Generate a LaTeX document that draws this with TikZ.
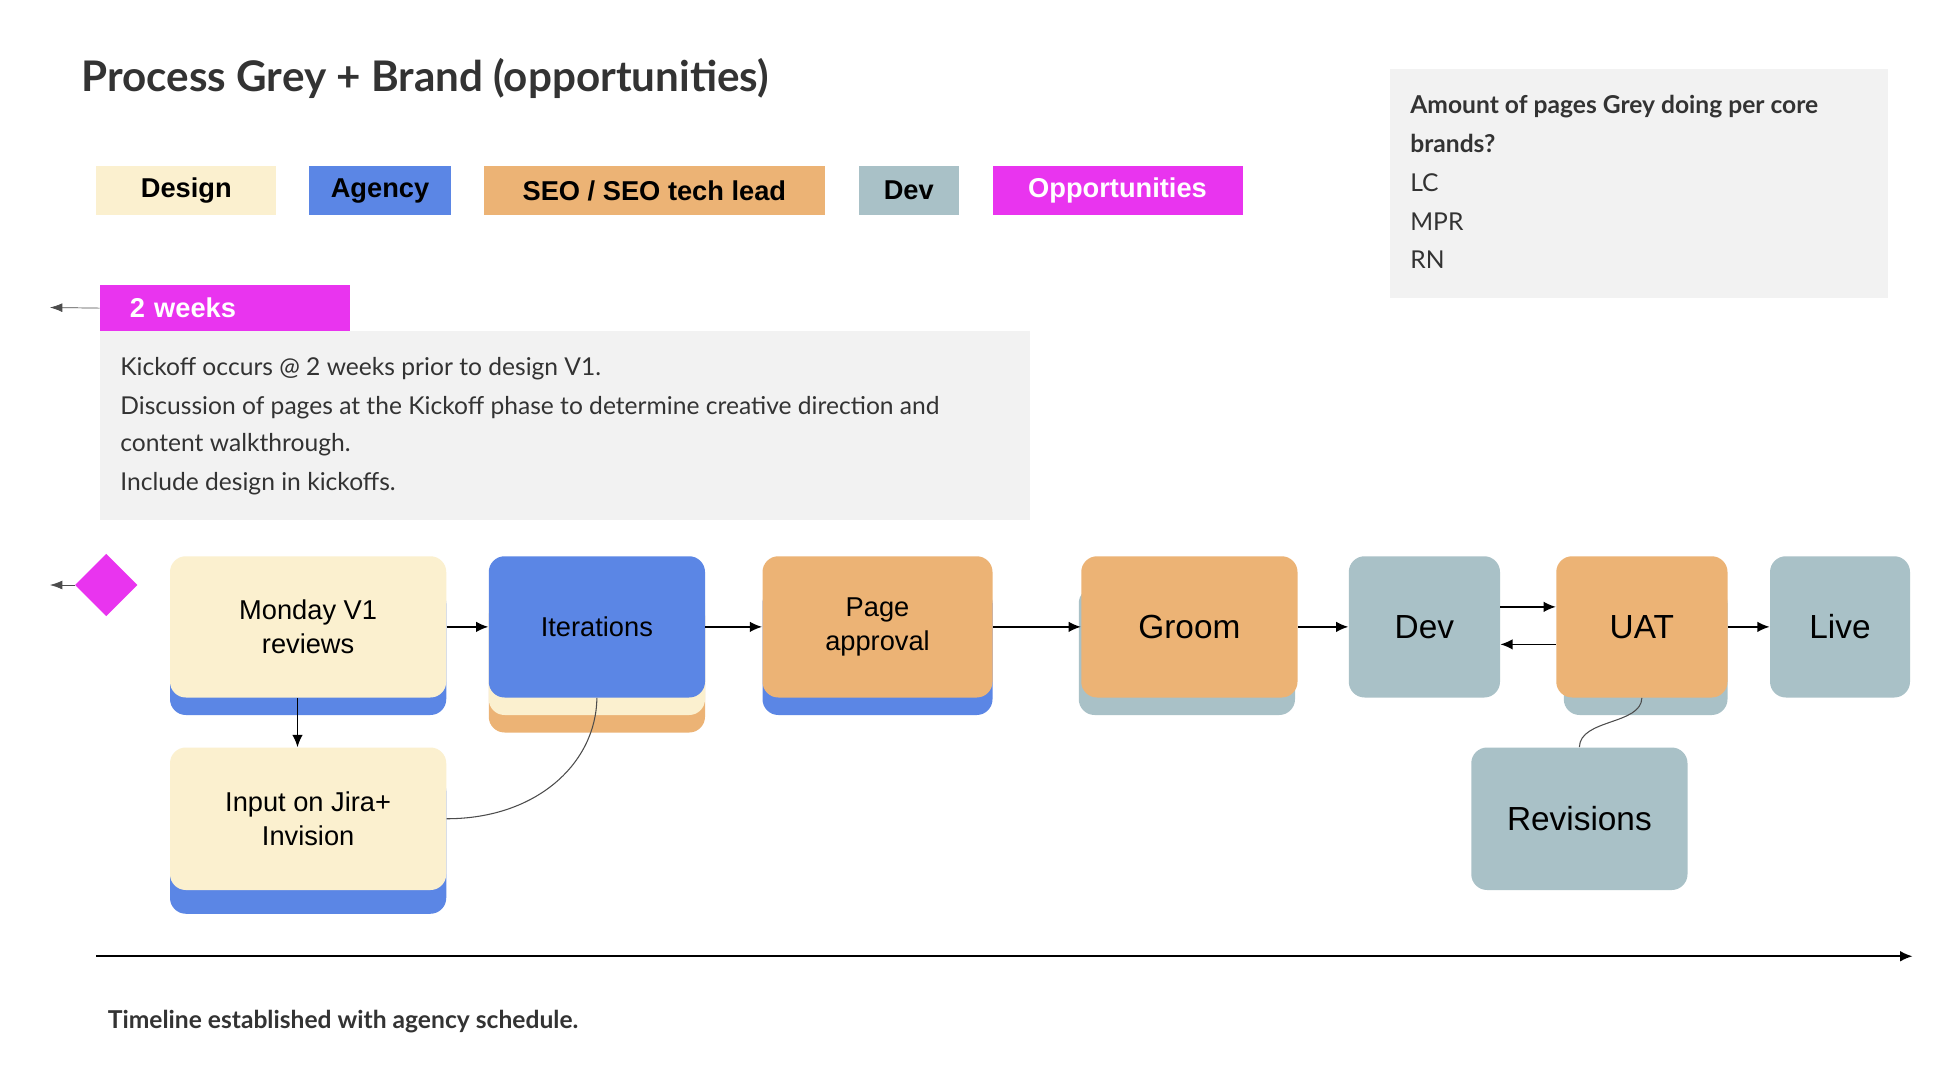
\documentclass[tikz,border=0pt]{standalone}
\usepackage{fontspec}
\setmainfont{Liberation Sans}
\newfontfamily\notefont{Lato}
\usetikzlibrary{arrows.meta,shapes.geometric}
\definecolor{design}{HTML}{FBF0CF}
\definecolor{agency}{HTML}{5B86E5}
\definecolor{seo}{HTML}{ECB375}
\definecolor{devc}{HTML}{A9C1C7}
\definecolor{opp}{HTML}{E934EF}
\definecolor{note}{HTML}{F2F2F2}
\tikzset{
  px/.style 2 args={minimum width=#1*0.025cm, minimum height=#2*0.025cm},
  legend/.style={inner sep=0pt, font=\fontsize{15.5}{18}\selectfont\bfseries},
  stage/.style={rounded corners=9pt, inner sep=0pt, align=center, font=\fontsize{15.5}{19}\selectfont},
  bigstage/.style={stage, font=\fontsize{19}{22}\selectfont},
  flow/.style={-{Latex[length=7pt,width=6pt]}, line width=0.9pt},
  notetext/.style={anchor=west, inner sep=0pt, text=black!80, font=\notefont\fontsize{14}{17}\selectfont}
}
\begin{document}
\begin{tikzpicture}[x=0.025cm,y=-0.025cm]
\useasboundingbox[fill=white] (0,0) rectangle (1561.6,862.4);

% title and legend
\node[anchor=west, inner sep=0pt, text=black!80, font=\notefont\fontsize{24}{28}\selectfont\bfseries] (title) at (65,63) {Process Grey + Brand (opportunities)};
\node[legend, fill=design, px={144}{39}] (lgdesign) at (149,152.5) {Design};
\node[legend, fill=agency, px={114}{39}] (lgagency) at (304,152.5) {Agency};
\node[legend, fill=seo, px={273}{39}] (lgseo) at (523.5,152.5) {SEO / SEO tech lead};
\node[legend, fill=devc, px={80}{39}] (lgdev) at (727,152.5) {Dev};
\node[legend, fill=opp, text=white, px={200}{39}] (lgopp) at (894,152.5) {Opportunities};

% notes
\fill[note] (1112,55) rectangle (1510,238);
\node[notetext, font=\notefont\fontsize{14}{17}\selectfont\bfseries] (q1) at (1128,85) {Amount of pages Grey doing per core};
\node[notetext, font=\notefont\fontsize{14}{17}\selectfont\bfseries] (q2) at (1128,115) {brands?};
\node[notetext] (lc) at (1128,146) {LC};
\node[notetext] (mpr) at (1128,177) {MPR};
\node[notetext] (rn) at (1128,208) {RN};

\node[legend, fill=opp, text=white, px={200}{37}, text width=4.6cm, align=left] (weeks) at (180,246.5) {\hspace*{0.4cm}2 weeks};
\coordinate (wend) at (40,246);
\draw[-{Latex[length=7pt,width=5pt]}, black!70] (weeks.west) -- (wend);
\fill[note] (80,265) rectangle (824,416);
\node[notetext] (k1) at (96,295) {Kickoff occurs @ 2 weeks prior to design V1.};
\node[notetext] (k2) at (96,326) {Discussion of pages at the Kickoff phase to determine creative direction and};
\node[notetext] (k3) at (96,356) {content walkthrough.};
\node[notetext] (k4) at (96,387) {Include design in kickoffs.};

\node[diamond, fill=opp, inner sep=0pt, px={50}{50}] (start) at (85,468) {};
\coordinate (send) at (40,468);
\draw[-{Latex[length=7pt,width=5pt]}, black!70] (start.west) -- (send);

% shadows
\fill[agency, rounded corners=9pt] (136,470) rectangle (357,572);
\fill[seo, rounded corners=9pt] (391,480) rectangle (564,586);
\fill[design, rounded corners=9pt] (391,470) rectangle (564,572);
\fill[agency, rounded corners=9pt] (610,470) rectangle (794,572);
\fill[devc, rounded corners=9pt] (863,470) rectangle (1036,572);
\fill[devc, rounded corners=9pt] (1251,470) rectangle (1382,572);
\fill[agency, rounded corners=9pt] (136,620) rectangle (357,731);

% stages
\node[stage, fill=design, px={221}{113}] (monday) at (246.5,501.5) {Monday V1\\reviews};
\node[stage, fill=agency, px={173}{113}] (iter) at (477.5,501.5) {Iterations};
\node[stage, fill=seo, px={184}{113}] (page) at (702,501.5) {Page\\approval};
\node[bigstage, fill=seo, px={173}{113}] (groom) at (951.5,501.5) {Groom};
\node[bigstage, fill=devc, px={121}{113}] (dev) at (1139.5,501.5) {Dev};
\node[bigstage, fill=seo, px={137}{113}] (uat) at (1313.5,501.5) {UAT};
\node[bigstage, fill=devc, px={112}{113}] (live) at (1472,501.5) {Live};
\node[stage, fill=design, px={221}{114}] (jira) at (246.5,655) {Input on Jira+\\Invision};
\node[bigstage, fill=devc, px={173}{114}] (rev) at (1263.5,655) {Revisions};

% connectors
\draw[flow] (monday) -- (iter);
\draw[flow] (iter) -- (page);
\draw[flow] (page) -- (groom);
\draw[flow] (groom) -- (dev);
\draw[flow] ([yshift=0.4cm]dev.east) -- ([yshift=0.4cm]uat.west);
\draw[flow] ([yshift=-0.35cm]uat.west) -- ([yshift=-0.35cm]dev.east);
\draw[flow] (uat) -- (live);
\draw[flow] (monday.south -| 238,0) -- (jira.north -| 238,0);
\draw[black!70, line width=0.6pt] (jira.east) .. controls (430,655) and (477,610) .. (iter.south);
\draw[black!70, line width=0.6pt] (rev.north) .. controls (1264,575) and (1313,580) .. (uat.south);

% timeline
\coordinate (t0) at (77,765);
\coordinate (t1) at (1530,765);
\draw[flow] (t0) -- (t1);
\node[notetext, font=\notefont\fontsize{14}{17}\selectfont\bfseries] (foot) at (86,817) {Timeline established with agency schedule.};
\end{tikzpicture}
\end{document}
